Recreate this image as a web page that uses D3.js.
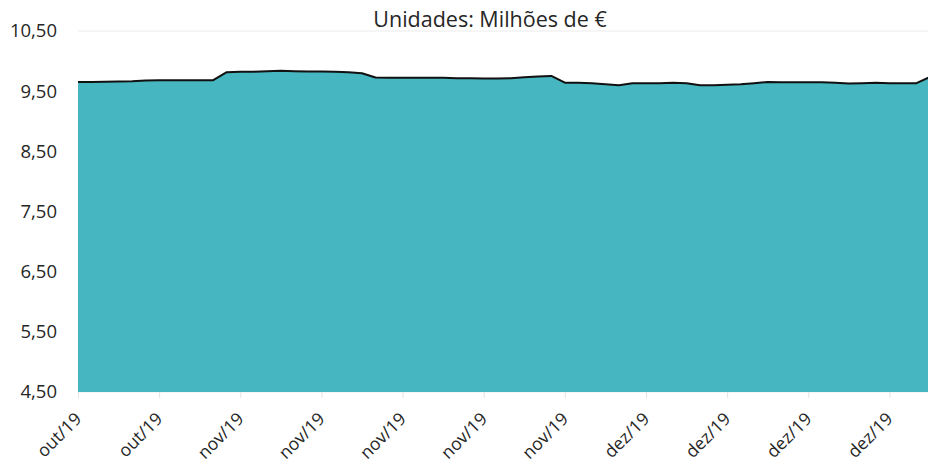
<!DOCTYPE html>
<html>
<head>
<meta charset="utf-8">
<script src="https://cdn.jsdelivr.net/npm/d3@7"></script>
<style>
  html, body { margin: 0; padding: 0; background: #ffffff; }
  svg { display: block; }
  text { font-family: "Open Sans", "Liberation Sans", sans-serif; fill: #262626; }
</style>
</head>
<body>
<svg id="chart" width="928" height="465"></svg>
<script>
// ---- data ----
const title = "Unidades: Milhões de €";
const values = [
  9.654, 9.654, 9.657, 9.661, 9.666, 9.678, 9.683, 9.683, 9.683, 9.683,
  9.683, 9.816, 9.821, 9.824, 9.832, 9.840, 9.832, 9.827, 9.827, 9.824,
  9.816, 9.799, 9.728, 9.724, 9.724, 9.724, 9.721, 9.721, 9.716, 9.716,
  9.711, 9.711, 9.716, 9.733, 9.744, 9.753, 9.641, 9.638, 9.633, 9.616,
  9.600, 9.633, 9.633, 9.633, 9.638, 9.633, 9.600, 9.600, 9.608, 9.616,
  9.633, 9.653, 9.650, 9.650, 9.650, 9.650, 9.641, 9.628, 9.633, 9.641,
  9.633, 9.633, 9.633, 9.738
];
const tickIndex = [0, 6, 12, 18, 24, 30, 36, 42, 48, 54, 60];
const tickLabels = ["out/19", "out/19", "nov/19", "nov/19", "nov/19", "nov/19",
                    "nov/19", "dez/19", "dez/19", "dez/19", "dez/19"];
const yTicks = [4.5, 5.5, 6.5, 7.5, 8.5, 9.5, 10.5];

// ---- layout ----
(function () {
const svg = d3.select("#chart");
const pLeft = 78, pRight = 930, pTop = 31, pBottom = 392;

const x = d3.scaleLinear().domain([0, values.length - 1]).range([pLeft, pRight]);
const y = d3.scaleLinear().domain([4.5, 10.5]).range([pBottom, pTop]);
const fmt = v => d3.format(".2f")(v).replace(".", ",");

// gridlines (faint)
svg.append("g")
  .selectAll("line")
  .data(yTicks)
  .join("line")
  .attr("x1", pLeft).attr("x2", 928)
  .attr("y1", d => y(d)).attr("y2", d => y(d))
  .attr("stroke", "#ececec")
  .attr("stroke-width", 1);

// area
const area = d3.area()
  .x((d, i) => x(i))
  .y0(y(4.5))
  .y1(d => y(d));
svg.append("path")
  .datum(values)
  .attr("d", area)
  .attr("fill", "#46b6c0");

// line
const line = d3.line()
  .x((d, i) => x(i))
  .y(d => y(d));
svg.append("path")
  .datum(values)
  .attr("d", line)
  .attr("fill", "none")
  .attr("stroke", "#111")
  .attr("stroke-width", 2)
  .attr("stroke-linejoin", "round");

// y axis
const yAxis = d3.axisLeft(y).tickValues(yTicks).tickFormat(fmt).tickSize(0).tickPadding(21);
const gy = svg.append("g").attr("transform", `translate(${pLeft},0)`).call(yAxis);
gy.select(".domain").remove();
gy.selectAll("text")
  .style("font-size", "18.5px")
  .style("font-family", "'Open Sans', sans-serif")
  .attr("fill", "#262626");

// x axis
const xAxis = d3.axisBottom(x)
  .tickValues(tickIndex)
  .tickFormat((d, i) => tickLabels[i])
  .tickSize(6);
const gx = svg.append("g").attr("transform", `translate(0,${pBottom})`).call(xAxis);
gx.select(".domain").remove();
gx.selectAll(".tick line").attr("stroke", "#e2e2e2");
gx.selectAll("text")
  .style("font-size", "17.5px")
  .style("font-family", "'Open Sans', sans-serif")
  .attr("fill", "#262626")
  .attr("text-anchor", "end")
  .attr("dy", null)
  .attr("y", null)
  .attr("transform", "translate(4,28) rotate(-45)");

// title
svg.append("text")
  .attr("x", 490)
  .attr("y", 27)
  .attr("text-anchor", "middle")
  .style("font-size", "21.5px")
  .text(title);
})();
</script>
</body>
</html>
